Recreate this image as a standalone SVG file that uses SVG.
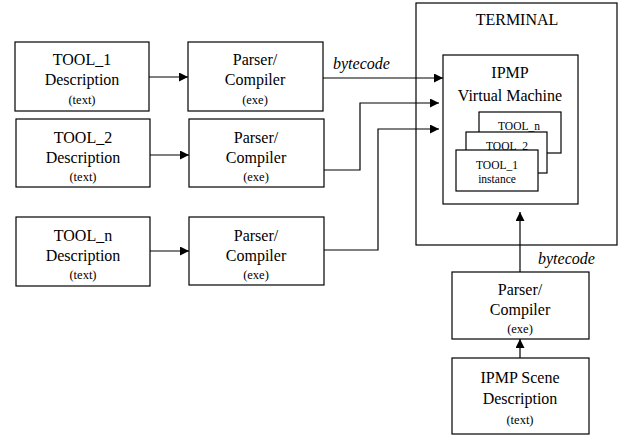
<svg xmlns="http://www.w3.org/2000/svg" width="620" height="435" viewBox="0 0 620 435">
<style>
text{font-family:'Liberation Serif','Tinos','Times New Roman','DejaVu Serif',serif}
.t{font-size:16px;text-anchor:middle;fill:#000}
.box{fill:#fff;stroke:#000;stroke-width:1.2}
.s{font-size:12.5px}
.xs{font-size:11.5px}
.i{font-style:italic;text-anchor:start}
.c{fill:none;stroke:#000;stroke-width:1.2}
</style>
<defs>
<marker id="ah" viewBox="0 0 10 10" refX="10" refY="5" markerWidth="10" markerHeight="9" markerUnits="userSpaceOnUse" orient="auto">
<path d="M0,0 L10,5 L0,10 z" fill="#000"/>
</marker>
</defs>
<g id="terminal">
<rect class="box" x="416" y="3" width="201" height="242"/>
<text class="t" x="517" y="25">TERMINAL</text>
</g>
<g id="vm">
<rect class="box" x="443" y="55" width="135" height="149"/>
<text class="t" x="510" y="78">IPMP</text>
<text class="t" x="510" y="101">Virtual Machine</text>
</g>
<g id="tool_n_inst">
<rect class="box" x="479" y="112" width="82" height="41"/>
<text class="t xs" x="519" y="130">TOOL_n</text>
</g>
<g id="tool_2_inst">
<rect class="box" x="466" y="132" width="81" height="41"/>
<text class="t xs" x="507" y="150">TOOL_2</text>
</g>
<g id="tool_1_inst">
<rect class="box" x="456" y="150" width="82" height="41"/>
<text class="t xs" x="497" y="169">TOOL_1</text>
<text class="t xs" x="497" y="183">instance</text>
</g>
<g id="tool1">
<rect class="box" x="15" y="42" width="134" height="69"/>
<text class="t" x="82" y="65">TOOL_1</text>
<text class="t" x="82" y="85">Description</text>
<text class="t s" x="82" y="104">(text)</text>
</g>
<g id="parser1">
<rect class="box" x="188" y="42" width="135" height="69"/>
<text class="t" x="255" y="65">Parser/</text>
<text class="t" x="255" y="85">Compiler</text>
<text class="t s" x="255" y="104">(exe)</text>
</g>
<g id="tool2">
<rect class="box" x="16" y="119" width="134" height="68"/>
<text class="t" x="83" y="143">TOOL_2</text>
<text class="t" x="83" y="163">Description</text>
<text class="t s" x="83" y="181">(text)</text>
</g>
<g id="parser2">
<rect class="box" x="189" y="119" width="135" height="68"/>
<text class="t" x="256" y="143">Parser/</text>
<text class="t" x="256" y="163">Compiler</text>
<text class="t s" x="256" y="181">(exe)</text>
</g>
<g id="tooln">
<rect class="box" x="16" y="217" width="134" height="69"/>
<text class="t" x="83" y="241">TOOL_n</text>
<text class="t" x="83" y="261">Description</text>
<text class="t s" x="83" y="279">(text)</text>
</g>
<g id="parser3">
<rect class="box" x="189" y="217" width="135" height="68"/>
<text class="t" x="256" y="241">Parser/</text>
<text class="t" x="256" y="261">Compiler</text>
<text class="t s" x="256" y="279">(exe)</text>
</g>
<g id="parser4">
<rect class="box" x="452" y="272" width="137" height="67"/>
<text class="t" x="520" y="295">Parser/</text>
<text class="t" x="520" y="315">Compiler</text>
<text class="t s" x="520" y="333">(exe)</text>
</g>
<g id="scene">
<rect class="box" x="452" y="358" width="137" height="76"/>
<text class="t" x="520" y="383">IPMP Scene</text>
<text class="t" x="520" y="404">Description</text>
<text class="t s" x="520" y="424">(text)</text>
</g>
<g id="connectors">
<line class="c" x1="149" y1="77" x2="188" y2="77" marker-end="url(#ah)"/>
<line class="c" x1="150" y1="155" x2="189" y2="155" marker-end="url(#ah)"/>
<line class="c" x1="150" y1="251" x2="189" y2="251" marker-end="url(#ah)"/>
<line class="c" x1="323" y1="78" x2="443" y2="78" marker-end="url(#ah)"/>
<polyline class="c" points="324,170 360,170 360,103 439,103" marker-end="url(#ah)"/>
<polyline class="c" points="324,250 378,250 378,129 439,129" marker-end="url(#ah)"/>
<line class="c" x1="520" y1="272" x2="520" y2="212" marker-end="url(#ah)"/>
<line class="c" x1="520" y1="358" x2="520" y2="339" marker-end="url(#ah)"/>
<text class="t i" x="333" y="69">bytecode</text>
<text class="t i" x="538" y="264">bytecode</text>
</g>
</svg>
